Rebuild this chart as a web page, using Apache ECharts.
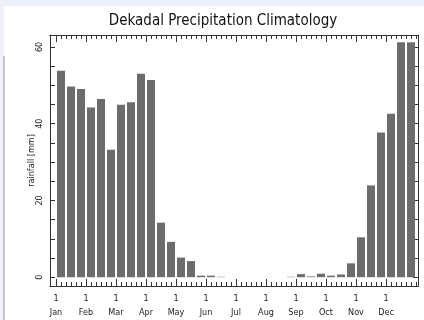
<!DOCTYPE html>
<html><head><meta charset="utf-8">
<script src="https://cdn.jsdelivr.net/npm/echarts@6/dist/echarts.min.js"></script>
<style>html,body{margin:0;padding:0;background:#fff}#c{width:424px;height:320px}</style>
</head><body><div id="c"></div>
<script>
const titleText = 'Dekadal Precipitation Climatology';
const yName = 'rainfall [mm]';
const months = ['Jan','Feb','Mar','Apr','May','Jun','Jul','Aug','Sep','Oct','Nov','Dec'];
const yLabels = [0, 20, 40, 60];
const rainfall = [53.8, 49.7, 49.0, 44.2, 46.4, 33.2, 44.9, 45.6, 53.0,
                  51.4, 14.2, 9.2, 5.1, 4.2, 0.4, 0.4, 0.1, 0, 0,
                  0, 0, 0, 0, 0.1, 0.8, 0.2, 0.9, 0.4, 0.7,
                  3.6, 10.4, 23.9, 37.7, 42.6, 61.2, 61.2];

const font = '"Liberation Sans Narrow","DejaVu Sans Condensed","Liberation Sans",sans-serif';
const monthTicks = months.map((m, i) => i * 3);
const halfTicks = [];
for (let v = 0; v <= 36; v += 0.5) halfTicks.push(v);
const yTicks = [];
for (let v = 0; v <= 60; v += 5) yTicks.push(v);

const barData = rainfall.map((v, i) => [i + 0.5, v]);

const frameColor = '#333';
function xAx(pos, tickVals, len, showLabel) {
  return {
    type: 'value', position: pos, min: -0.6, max: 36.2,
    axisLine: {show: true, onZero: false, lineStyle: {color: frameColor, width: 1}},
    axisTick: {show: true, inside: true, length: len, customValues: tickVals, lineStyle: {color: frameColor}},
    axisLabel: showLabel ? {
      show: true, customValues: monthTicks, margin: 6,
      formatter: v => '1\n' + months[Math.round(v / 3)],
      fontFamily: font, fontSize: 9, color: '#222', lineHeight: 14
    } : {show: false},
    splitLine: {show: false}
  };
}
function yAx(pos, showLabel) {
  return {
    type: 'value', position: pos, min: -2.3, max: 63.1,
    name: showLabel ? yName : '', nameLocation: 'middle', nameGap: 14, nameRotate: 90,
    nameMoveOverlap: false,
    nameTextStyle: {fontFamily: font, fontSize: 9, color: '#222'},
    axisLine: {show: true, onZero: false, lineStyle: {color: frameColor, width: 1}},
    axisTick: {show: true, inside: true, length: 5, customValues: yTicks, lineStyle: {color: frameColor}},
    axisLabel: showLabel ? {
      show: true, customValues: yLabels, rotate: 90, margin: 6,
      fontFamily: font, fontSize: 9, color: '#222'
    } : {show: false},
    splitLine: {show: false}
  };
}

const chart = echarts.init(document.getElementById('c'), null, {renderer: 'canvas'});
chart.setOption({
  animation: false,
  backgroundColor: '#fff',
  title: {
    text: titleText, left: 218, top: 9, textAlign: 'center',
    textStyle: {fontFamily: font, fontSize: 15, fontWeight: 'normal', color: '#111'}
  },
  graphic: [
    {type: 'rect', shape: {x: 0, y: 0, width: 424, height: 6}, style: {fill: '#eaf0f7'}, z: -1},
    {type: 'rect', shape: {x: 0, y: 0, width: 4, height: 320}, style: {fill: '#eef2f8'}, z: -1},
    {type: 'line', shape: {x1: 4, y1: 56, x2: 4, y2: 320}, style: {stroke: '#b5b5b5', lineWidth: 1.5}}
  ],
  grid: {left: 50, right: 6, top: 35, bottom: 33},
  xAxis: [
    xAx('bottom', halfTicks, 4, true),
    xAx('top', halfTicks, 4, false),
    xAx('bottom', monthTicks, 7, false),
    xAx('top', monthTicks, 7, false)
  ],
  yAxis: [yAx('left', true), yAx('right', false)],
  series: [{
    type: 'bar', xAxisIndex: 0, yAxisIndex: 0, data: barData, barWidth: 8,
    itemStyle: {color: '#6c6c6c'}
  }]
});
</script></body></html>
